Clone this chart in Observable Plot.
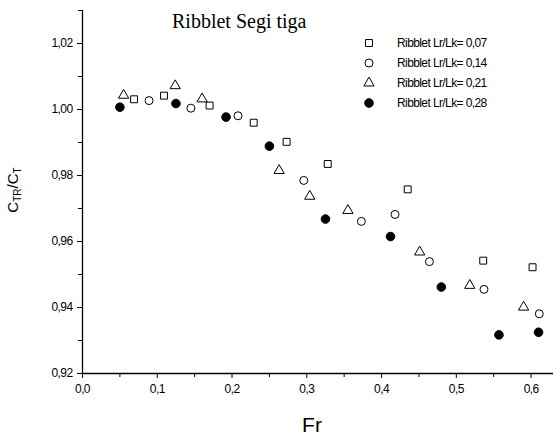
<!DOCTYPE html>
<html>
<head>
<meta charset="utf-8">
<script src="https://cdn.jsdelivr.net/npm/d3@7"></script>
<script src="https://cdn.jsdelivr.net/npm/@observablehq/plot@0.6"></script>
<style>
  body { margin: 0; background: #fff; }
  #wrap { position: relative; width: 555px; height: 439px; overflow: hidden; background:#fff; }
  #chart { position: absolute; left: 0; top: 0; }
  .ov { position: absolute; color: #000; white-space: nowrap; }
  #title { font-family: "Liberation Serif", "Times New Roman", serif; font-size: 20px; line-height: 20px; left: 172px; top: 11px; }
  #xlab { font-family: "Liberation Sans", Arial, sans-serif; font-size: 21px; line-height: 21px; left: 312px; top: 414px; transform: translateX(-50%); }
  #ylab { font-family: "Liberation Sans", Arial, sans-serif; font-size: 15px; line-height: 15px; left: 15px; top: 190px; transform: translate(-50%,-50%) rotate(-90deg); }
  #ylab sub { font-size: 10px; vertical-align: -3px; }
  #legend { left: 360px; top: 33px; font-family: "Liberation Sans", Arial, sans-serif; font-size: 12px; letter-spacing: -0.6px; }
  .row { height: 20px; line-height: 20px; display: flex; align-items: center; }
  .row svg { width: 18px; height: 18px; margin-right: 19px; }
</style>
</head>
<body>
<div id="wrap">
  <div id="chart"></div>
  <div class="ov" id="title"></div>
  <div class="ov" id="legend"></div>
  <div class="ov" id="ylab">C<sub>TR</sub>/C<sub>T</sub></div>
  <div class="ov" id="xlab">Fr</div>
</div>
<script>
// ---- data ----
const titleText = "Ribblet Segi tiga";
const seriesNames = ["Ribblet Lr/Lk= 0,07", "Ribblet Lr/Lk= 0,14", "Ribblet Lr/Lk= 0,21", "Ribblet Lr/Lk= 0,28"];

const fr007 = [0.069, 0.109, 0.170, 0.229, 0.273, 0.328, 0.435, 0.536, 0.602];
const ct007 = [1.0031, 1.0042, 1.0012, 0.9960, 0.9902, 0.9835, 0.9758, 0.9542, 0.9522];

const fr014 = [0.089, 0.145, 0.208, 0.296, 0.373, 0.418, 0.464, 0.537, 0.611];
const ct014 = [1.0027, 1.0004, 0.9981, 0.9785, 0.9661, 0.9682, 0.9539, 0.9455, 0.9381];

const fr021 = [0.055, 0.124, 0.160, 0.263, 0.304, 0.355, 0.451, 0.518, 0.590];
const ct021 = [1.0043, 1.0072, 1.0032, 0.9815, 0.9737, 0.9694, 0.9568, 0.9467, 0.9401];

const fr028 = [0.050, 0.125, 0.192, 0.250, 0.325, 0.412, 0.480, 0.557, 0.610];
const ct028 = [1.0007, 1.0018, 0.9977, 0.9889, 0.9668, 0.9615, 0.9462, 0.9317, 0.9325];

const xTicks = [0, 0.1, 0.2, 0.3, 0.4, 0.5, 0.6];
const xMinor = [0.05, 0.15, 0.25, 0.35, 0.45, 0.55];
const yTicks = [0.92, 0.94, 0.96, 0.98, 1.00, 1.02];
const yMinor = [0.93, 0.95, 0.97, 0.99, 1.01, 1.03];

// ---- styles per series ----
const frs = [fr007, fr014, fr021, fr028];
const cts = [ct007, ct014, ct021, ct028];
const symbols = ["square", "circle", "triangle", "circle"];
const fills = ["none", "none", "none", "black"];
const radii = [3.9, 4.0, 3.8, 4.3];

const fmtX = d => d3.format(".1f")(d).replace(".", ",");
const fmtY = d => d3.format(".2f")(d).replace(".", ",");

const dotMarks = seriesNames.map((name, i) => {
  const rows = frs[i].map((f, j) => ({fr: f, ct: cts[i][j]}));
  return Plot.dot(rows, {x: "fr", y: "ct", symbol: () => symbols[i], r: radii[i],
    stroke: "black", strokeWidth: 1, fill: fills[i]});
});

const chart = Plot.plot({
  width: 555,
  height: 439,
  marginLeft: 82,
  marginRight: 2,
  marginTop: 10,
  marginBottom: 66,
  style: {fontFamily: '"Liberation Sans", Arial, sans-serif', fontSize: "12px", letterSpacing: "-0.6px", background: "white", color: "black"},
  x: {domain: [0, 0.63]},
  y: {domain: [0.92, 1.03]},
  symbol: {type: "identity"},
  marks: [
    Plot.axisX(xTicks, {tickSize: 5, tickPadding: 6, tickFormat: fmtX, label: null, fontSize: 12}),
    Plot.axisX(xMinor, {tickSize: 4, tickFormat: () => "", label: null}),
    Plot.axisY(yTicks, {tickSize: 5, tickPadding: 5, tickFormat: fmtY, label: null, fontSize: 12}),
    Plot.axisY(yMinor, {tickSize: 4, tickFormat: () => "", label: null}),
    Plot.ruleX([0], {stroke: "black", strokeWidth: 1.3}),
    Plot.ruleY([0.92], {stroke: "black", strokeWidth: 1.3}),
    ...dotMarks
  ]
});
document.getElementById("chart").appendChild(chart);

document.getElementById("title").textContent = titleText;

// legend
const legend = d3.select("#legend");
const symMap = {square: d3.symbolSquare, circle: d3.symbolCircle, triangle: d3.symbolTriangle};
seriesNames.forEach((name, i) => {
  const row = legend.append("div").attr("class", "row");
  const svg = row.append("svg").attr("viewBox", "-9 -9 18 18");
  svg.append("path")
    .attr("d", d3.symbol(symMap[symbols[i]], Math.PI * radii[i] * radii[i])())
    .attr("fill", fills[i]).attr("stroke", "black").attr("stroke-width", 1);
  row.append("span").text(name);
});
</script>
</body>
</html>
